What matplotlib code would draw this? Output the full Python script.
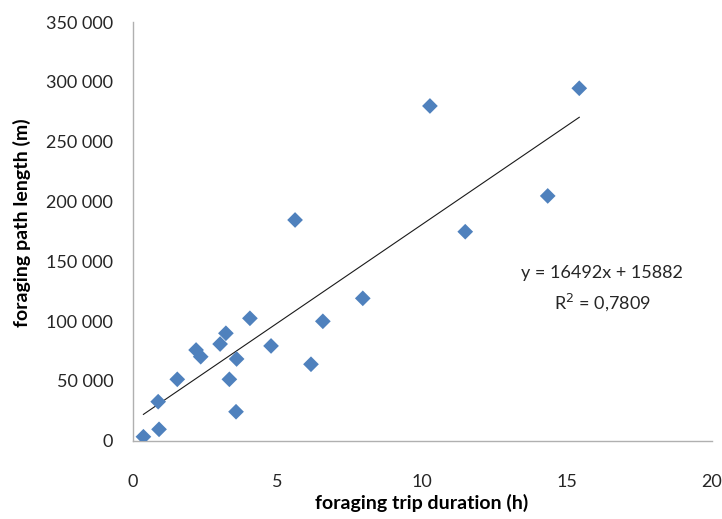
import matplotlib
matplotlib.use('Agg')
import matplotlib.pyplot as plt
from matplotlib.ticker import FuncFormatter
import numpy as np

plt.rcParams['font.family'] = ['Lato', 'DejaVu Sans']

# foraging trips: duration (h) and path length (m)
duration = [0.37, 0.91, 0.88, 1.54, 2.19, 2.35, 3.02, 3.22, 3.34, 3.59, 3.57,
            4.05, 4.78, 5.61, 6.16, 6.57, 7.95, 10.27, 11.49, 14.34, 15.43]
path_length = [3300, 9500, 32600, 51300, 75800, 70200, 80800, 89800, 51300,
               68300, 24200, 102300, 79200, 184500, 63900, 99800, 119000,
               279800, 174700, 204600, 294600]

slope = 16492
intercept = 15882
r2_text = 'R$^2$ = 0,7809'

fig = plt.figure(figsize=(7.22, 5.19), dpi=100)
ax = fig.add_axes([0.1838, 0.1509, 0.8017, 0.8067])

ax.scatter(duration, path_length, marker='D', s=64, color='#4F81BD',
           edgecolors='none', zorder=3)

xs = np.array([min(duration), max(duration)])
ax.plot(xs, slope * xs + intercept, color='#1a1a1a', lw=0.8, zorder=2)

ax.text(16.23, 140200, 'y = 16492x + 15882', ha='center', va='center',
        fontsize=13, color='#262626')
ax.text(16.23, 116000, r2_text, ha='center', va='center',
        fontsize=13, color='#262626')

ax.set_xlim(0, 20)
ax.set_ylim(0, 350000)
ax.set_xticks([0, 5, 10, 15, 20])
ax.set_yticks(np.arange(0, 350001, 50000))
ax.yaxis.set_major_formatter(FuncFormatter(lambda v, p: f'{int(v):,}'.replace(',', ' ')))

for s in ['top', 'right']:
    ax.spines[s].set_visible(False)
for s in ['left', 'bottom']:
    ax.spines[s].set_color('#B0B0B0')
    ax.spines[s].set_linewidth(1.0)

ax.tick_params(axis='x', length=0, pad=24, labelsize=13, labelcolor='#262626')
ax.tick_params(axis='y', length=0, pad=14, labelsize=13, labelcolor='#262626')

ax.set_xlabel('foraging trip duration (h)', fontsize=14, fontweight='bold',
              labelpad=3)
ax.set_ylabel('foraging path length (m)', fontsize=14, fontweight='bold')
ax.yaxis.set_label_coords(-0.176, 0.52)

fig.savefig('out.png', dpi=100)
